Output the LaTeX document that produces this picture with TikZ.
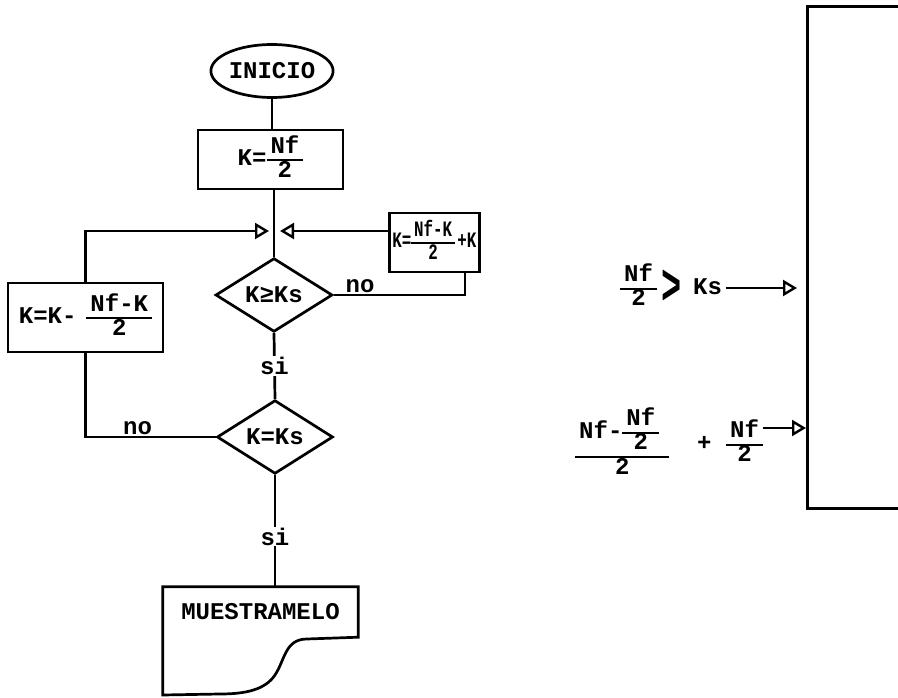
\documentclass[tikz,border=0pt]{standalone}
\usepackage{amsmath}
\usepackage{graphicx}
\usepackage{fontspec}
\setmainfont{Liberation Mono}
\setmonofont{Liberation Mono}
\usepackage{tikz}
\usetikzlibrary{shapes.geometric,arrows.meta,positioning}
\setlength{\arrayrulewidth}{2.2pt}
\renewcommand{\arraystretch}{0.8}
\newcommand{\fr}[2]{\begin{tabular}{@{\,}c@{\,}}#1\\\hline #2\end{tabular}}

\begin{document}
\begin{tikzpicture}[x=1pt,y=-1pt,font=\fontsize{24}{25}\selectfont\bfseries,
  flow/.style={line width=2.7pt},
  tip/.style={-{Triangle[open,length=14pt,width=16pt,line width=2.4pt]}},
  term/.style={draw,flow,ellipse,minimum width=119pt,minimum height=53pt,inner sep=0pt},
  box/.style={draw,flow,rectangle,inner sep=2pt,align=center},
  cond/.style={draw,flow,diamond,minimum width=117pt,minimum height=72pt,inner sep=0pt},
  lbl/.style={fill=white,inner sep=1pt}
]
  \useasboundingbox (0,0) rectangle (898,698);

  % flowchart
  \node[term] (inicio) at (272,71) {INICIO};
  \node[box,minimum width=145pt,minimum height=59pt] (kini) at (270.5,159.5) {K=\fr{Nf}{2}};
  \node[cond] (c1) at (274,295) {K≥Ks};
  \node[cond,minimum width=116pt,minimum height=70pt] (c2) at (275,437) {K=Ks};
  \node[box,anchor=west,minimum width=90pt,minimum height=59pt,inner sep=1pt,
        font=\fontsize{22}{23}\selectfont\bfseries] (kup) at (388,242.5)
        {\scalebox{0.72}[1]{K=\fr{Nf-K}{2}\,+K}};
  \node[box,minimum width=155pt,minimum height=69pt] (kdec) at (85.5,317.5) {K=K-\hspace{10pt}\fr{Nf-K}{2}};
  \node[minimum width=195pt,minimum height=50pt,inner sep=0pt,
        font=\fontsize{24}{25}\selectfont\bfseries] (doc) at (260.5,612) {MUESTRAMELO};
  \coordinate (merge) at (274,231);

  \draw[flow] (inicio) -- (inicio |- kini.north);
  \draw[flow] (kini.south -| c1.north) -- (c1.north);
  \draw[flow,tip] (kdec.north) |- ([xshift=-5pt]merge);
  \draw[flow,tip] (kup.west |- merge) -- ([xshift=6pt]merge);
  \draw[flow] (c1.east) -| ([xshift=77pt]kup.south west) node[pos=0.1,above,inner sep=1pt] {no};
  \draw[flow] (c1.south) -- node[lbl] {si} (c2.north);
  \draw[flow] (c2.west) -| (kdec.south) node[pos=0.3,above,inner sep=1pt] {no};
  \draw[flow] (c2.south) -- node[lbl,pos=0.55] {si} (c2.south |- doc.north);
  \draw[flow] (doc.north west) -- (doc.north east) -- (doc.south east) -- (307,639)
    .. controls (285,639) and (285,660) .. (275,675)
    .. controls (265,690) and (245,694) .. (220,694) -- (doc.west |- 0,695) -- cycle;

  % right part
  \node[draw,flow,anchor=north west,minimum width=160pt,minimum height=502pt] (salida) at (806,5) {};
  \node[anchor=west,inner sep=0pt] (f1) at (620,288)
    {\fr{Nf}{2}\hspace{4pt}\raisebox{-10pt}{\scalebox{1.4}[2.4]{>}}\hspace{12pt}Ks};
  \draw[flow,tip] ([xshift=4pt]f1.east) -- ([xshift=-9pt]f1.east -| salida.west);
  \node[anchor=west,inner sep=0pt] (f2) at (575,444) {\fr{Nf-\fr{Nf}{2}\hspace*{6pt}}{2}\hspace{28pt}+};
  \node[anchor=west,inner sep=0pt] (f3) at (726,444) {\fr{Nf}{2}};
  \draw[flow,tip] ([yshift=16pt]f3.east) -- ([yshift=16pt]f3.east -| salida.west);
\end{tikzpicture}
\end{document}
